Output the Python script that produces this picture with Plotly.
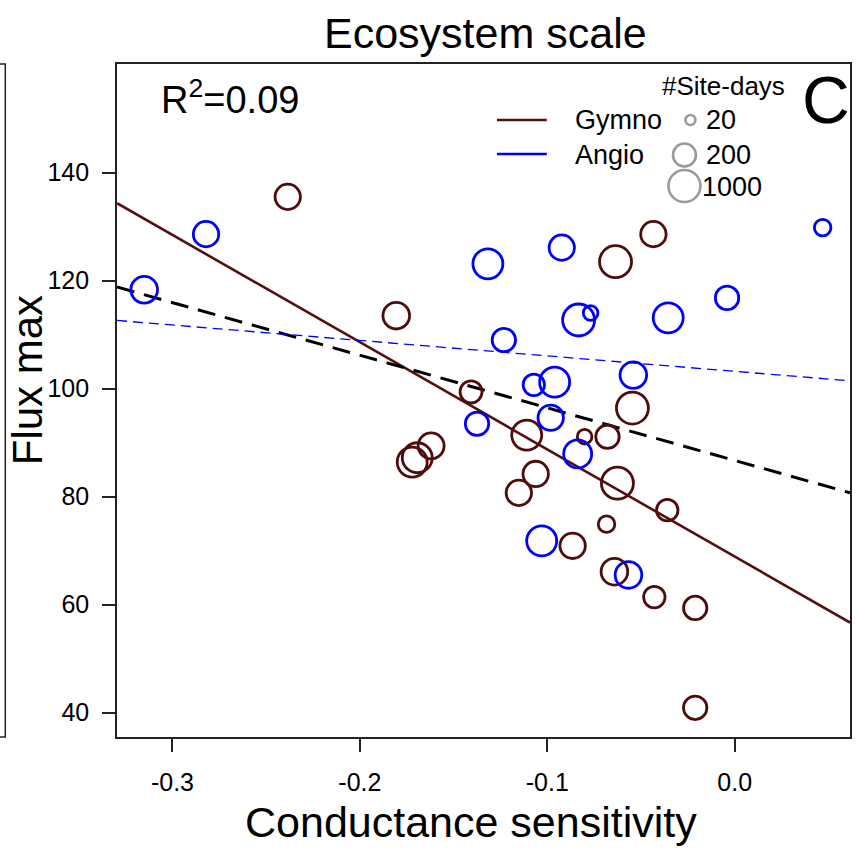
import numpy as np
import plotly.graph_objects as go

# ---------------- data ----------------
gymno_x = [-0.2385, -0.1806, -0.1407, -0.1721, -0.1694, -0.1620, -0.0434, -0.0636,
           -0.0546, -0.1110, -0.0801, -0.0679, -0.1062, -0.1152, -0.0626, -0.0360,
           -0.0684, -0.0865, -0.0642, -0.0429, -0.0211, -0.0211]
gymno_y = [135.5, 113.5, 99.4, 86.4, 87.2, 89.4, 128.6, 123.5,
           96.4, 91.4, 91.1, 91.1, 84.2, 80.7, 82.5, 77.5,
           74.9, 70.9, 66.1, 61.4, 59.4, 40.9]
gymno_days = [310, 385, 170, 700, 700, 345, 310, 1000,
              1000, 700, 46, 218, 310, 310, 1000, 153,
              65, 310, 385, 153, 218, 218]

angio_x = [-0.3151, -0.2821, -0.1317, -0.1232, -0.1375, 0.0469, -0.0923, -0.0041,
           -0.0833, -0.0769, -0.0355, -0.1072, -0.0961, -0.0541, -0.0982, -0.0838,
           -0.1030, -0.0567]
angio_y = [118.3, 128.6, 123.1, 109.0, 93.5, 129.8, 126.1, 116.8,
           112.7, 114.0, 113.1, 100.7, 101.2, 102.5, 94.6, 87.9,
           71.8, 65.5]
angio_days = [385, 310, 700, 218, 218, 65, 310, 218,
              1000, 46, 700, 153, 700, 385, 310, 492,
              700, 385]

# regression lines: (intercept, slope)
fit_gymno = (68.9, -198.5)
fit_all = (86.7, -97.4)
fit_angio = (103.2, -28.6)

legend_days = [20, 200, 1000]
legend_groups = ["Gymno", "Angio"]
x_ticks = [-0.3, -0.2, -0.1, 0.0]
x_ticktext = ["-0.3", "-0.2", "-0.1", "0.0"]
y_ticks = [40, 60, 80, 100, 120, 140]
r2_text = "R<sup>2</sup>=0.09"

# ---------------- styling ----------------
BROWN = "#4f0c0c"
BROWN_LINE = "#541010"
BLUE = "#0000ff"
GREY = "#979d9b"
FONT = "Liberation Sans, Arial, sans-serif"

XR = [-0.3296, 0.0615]
YR = [35.5, 160.1]

W_FIG, H_FIG = 859, 848
L, R, T, B = 117, 7, 64, 111
PW = W_FIG - L - R
PH = H_FIG - T - B


def px_x(p):
    return (p - L) / PW


def px_y(p):
    return (H_FIG - B - p) / PH


def radius(n):
    return 6.5 * np.log10(np.asarray(n, dtype=float)) - 3.5


fig = go.Figure()

xs = np.array(XR)
for (a, b), color, width, dash in [
    (fit_gymno, BROWN_LINE, 2.6, "solid"),
    (fit_all, "black", 3.0, "18px,10px"),
    (fit_angio, BLUE, 1.3, "10px,6px"),
]:
    fig.add_trace(go.Scatter(x=xs, y=a + b * xs, mode="lines",
                             line=dict(color=color, width=width, dash=dash),
                             showlegend=False, hoverinfo="skip"))

for x, y, d, c in [(gymno_x, gymno_y, gymno_days, BROWN),
                   (angio_x, angio_y, angio_days, BLUE)]:
    fig.add_trace(go.Scatter(
        x=x, y=y, mode="markers",
        marker=dict(symbol="circle-open", size=2 * radius(d), opacity=1,
                    color=c, line=dict(color=c, width=2.8)),
        showlegend=False))

shapes = []
# sliver of neighbouring panel on the left
shapes.append(dict(type="path", xref="paper", yref="paper",
                   path=f"M {px_x(-5)} {px_y(64)} L {px_x(5)} {px_y(64)} L {px_x(5)} {px_y(737)} L {px_x(-5)} {px_y(737)}",
                   line=dict(color="#222", width=1.5)))
# legend line samples
for (yy, col) in [(120, BROWN_LINE), (154, BLUE)]:
    shapes.append(dict(type="line", xref="paper", yref="paper",
                       x0=px_x(498), x1=px_x(548), y0=px_y(yy), y1=px_y(yy),
                       line=dict(color=col, width=2.6)))
# size legend circles
for d, (cx, cy) in zip(legend_days, [(692, 120), (686, 155), (686, 186)]):
    r = float(radius(d))
    shapes.append(dict(type="circle", xref="paper", yref="paper",
                       xsizemode="pixel", ysizemode="pixel",
                       xanchor=px_x(cx), yanchor=px_y(cy),
                       x0=-r, x1=r, y0=-r, y1=r,
                       line=dict(color=GREY, width=2.6)))

ann = []


def text(s, x, y, size, xanchor="center", yanchor="middle", angle=0):
    ann.append(dict(text=s, x=px_x(x), y=px_y(y), xref="paper", yref="paper",
                    showarrow=False, xanchor=xanchor, yanchor=yanchor,
                    textangle=angle, font=dict(size=size, color="black", family=FONT)))


text("Ecosystem scale", 487, 33, 43)
text("Conductance sensitivity", 472, 822, 43)
text("Flux max", 27, 380, 42, angle=-90)
text(r2_text, 159, 97, 38, xanchor="left")
text("C", 828, 100, 66)
text("#Site-days", 725, 86, 26)
text(legend_groups[0], 574, 120, 27, xanchor="left")
text(legend_groups[1], 574, 155, 27, xanchor="left")
for d, (lx, ly) in zip(legend_days, [(706, 120), (706, 155), (702, 187)]):
    text(str(d), lx, ly, 27, xanchor="left")

axis_common = dict(showline=True, linecolor="#222", linewidth=1.6, mirror=True,
                   ticks="outside", ticklen=13, tickwidth=1.5, tickcolor="#222",
                   showgrid=False, zeroline=False,
                   tickfont=dict(size=25, color="black", family=FONT))

fig.update_layout(
    width=W_FIG, height=H_FIG,
    margin=dict(l=L, r=R, t=T, b=B, pad=0),
    paper_bgcolor="white", plot_bgcolor="white",
    xaxis=dict(range=XR, tickvals=x_ticks, ticktext=x_ticktext,
               ticklabelstandoff=9, **axis_common),
    yaxis=dict(range=YR, tickvals=y_ticks, ticklabelstandoff=8, **axis_common),
    shapes=shapes, annotations=ann, showlegend=False,
)

fig.write_html("out.html")
